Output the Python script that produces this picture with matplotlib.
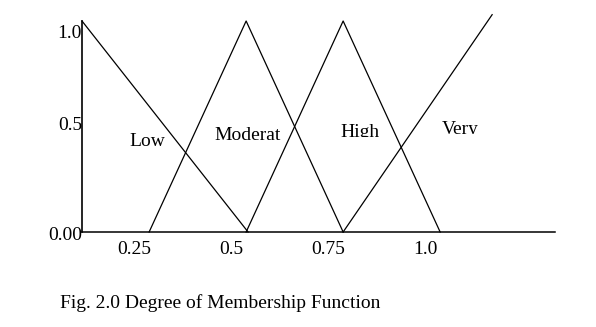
import matplotlib
matplotlib.use("Agg")
import matplotlib.pyplot as plt
from matplotlib.transforms import ScaledTranslation, Bbox, TransformedBbox

plt.rcParams['font.family'] = ['Liberation Serif', 'DejaVu Serif']

# membership functions (x = input value, y = degree of membership)
low_x = [0.077, 0.505]
low_y = [1.0, 0.0]
moderate_x = [0.25, 0.5, 0.75]
moderate_y = [0.0, 1.0, 0.0]
high_x = [0.5, 0.75, 1.0]
high_y = [0.0, 1.0, 0.0]
very_x = [0.75, 1.134]
very_y = [0.0, 1.03]

labels = ["Low", "Moderat", "High", "Very"]
xtick_vals = [0.25, 0.5, 0.75, 1.0]
xtick_labels = ["0.25", "0.5", "0.75", "1.0"]
ytick_vals = [0.0, 0.5, 1.0]
ytick_labels = ["0.00", "0.5", "1.0"]

W, H = 596, 327
fig = plt.figure(figsize=(W / 100, H / 100), dpi=100)
ax = fig.add_axes([82 / W, 1 - 232 / H, (555 - 82) / W, (232 - 21) / H])

lw = 0.9
for xs, ys in [(low_x, low_y), (moderate_x, moderate_y), (high_x, high_y), (very_x, very_y)]:
    ax.plot(xs, ys, color='black', lw=lw, clip_on=False)

ax.set_xlim(0.077, 1.296)
ax.set_ylim(0, 1.0)
for s in ['top', 'right']:
    ax.spines[s].set_visible(False)
ax.spines['left'].set_linewidth(1.2)
ax.spines['bottom'].set_linewidth(1.1)

ax.set_xticks(xtick_vals)
ax.set_xticklabels(xtick_labels, fontsize=14)
ax.set_yticks(ytick_vals)
ax.set_yticklabels(ytick_labels, fontsize=14)
ax.tick_params(axis='x', length=0, pad=6.5)
ax.tick_params(axis='y', length=0, pad=0)

for lab in ax.get_xticklabels():
    lab.set_transform(lab.get_transform() + ScaledTranslation(-15 / 100, 0, fig.dpi_scale_trans))
y_offsets = [-1, 3, -10]  # pixel shifts of y labels
for lab, dy in zip(ax.get_yticklabels(), y_offsets):
    lab.set_transform(lab.get_transform() + ScaledTranslation(0, dy / 100, fig.dpi_scale_trans))

# region labels (pixel positions) with clipping at bottom as in the scan
label_pos = [(147, 142, 147), (248, 136, 160), (360, 133, 137), (460, 130, 134)]
for text, (px, py, clip_y) in zip(labels, label_pos):
    t = fig.text(px / W, 1 - py / H, text, ha='center', va='center', fontsize=14)
    t.set_clip_on(True)
    t.set_clip_box(TransformedBbox(Bbox([[0, 1 - clip_y / H], [1, 1]]), fig.transFigure))

fig.text(60 / W, 1 - 303 / H, "Fig. 2.0 Degree of Membership Function", ha='left', va='center', fontsize=14)

fig.savefig("out.png", dpi=100)
